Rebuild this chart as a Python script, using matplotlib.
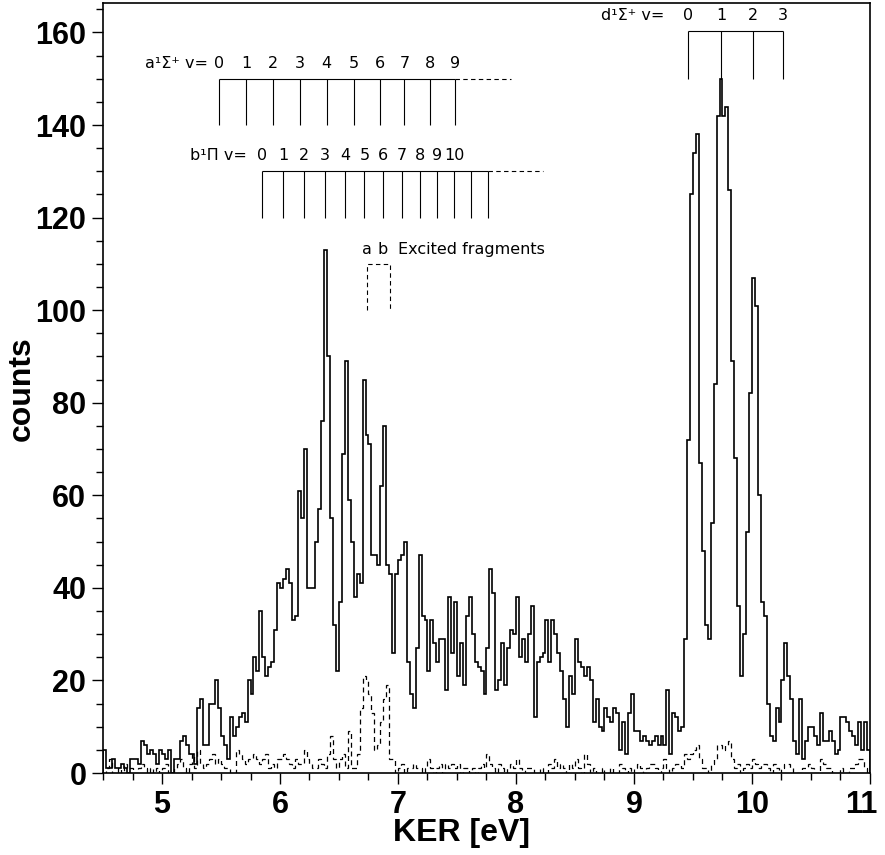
import numpy as np
import matplotlib
matplotlib.use("Agg")
import matplotlib.pyplot as plt
import matplotlib.transforms as mtransforms

# KER histogram, 0.025 eV bins from 4.5 to 11 eV
ker_lo, ker_hi, bin_w = 4.5, 11.0, 0.025

total_counts = [
    5, 1, 1, 3, 1, 1, 2, 1, 0, 3,
    3, 3, 2, 7, 6, 4, 5, 4, 2, 5,
    4, 3, 5, 0, 3, 3, 7, 8, 6, 4,
    4, 2, 14, 16, 6, 6, 15, 15, 20, 14,
    8, 6, 3, 12, 8, 10, 12, 13, 11, 20,
    17, 25, 22, 35, 25, 21, 23, 24, 31, 41,
    40, 42, 44, 41, 33, 34, 61, 55, 70, 40,
    40, 40, 50, 57, 76, 113, 90, 55, 32, 22,
    37, 69, 89, 59, 50, 38, 43, 41, 85, 73,
    71, 47, 47, 45, 62, 75, 45, 43, 26, 43,
    46, 47, 50, 24, 17, 14, 27, 47, 34, 33,
    22, 33, 28, 24, 29, 29, 18, 38, 26, 37,
    21, 28, 19, 34, 38, 30, 24, 23, 22, 17,
    27, 44, 39, 18, 20, 28, 19, 27, 31, 30,
    38, 25, 29, 24, 30, 36, 12, 24, 25, 26,
    33, 24, 33, 30, 26, 22, 16, 10, 21, 17,
    29, 24, 23, 21, 23, 20, 11, 16, 10, 9,
    14, 12, 11, 14, 13, 5, 11, 4, 13, 17,
    9, 9, 7, 8, 7, 6, 7, 8, 6, 8,
    6, 18, 4, 13, 12, 9, 10, 29, 72, 125,
    134, 138, 67, 48, 32, 29, 54, 84, 142, 150,
    142, 144, 126, 89, 68, 36, 21, 30, 52, 82,
    107, 101, 60, 37, 34, 15, 8, 7, 14, 11,
    20, 28, 21, 16, 7, 4, 16, 3, 7, 10,
    10, 8, 6, 13, 7, 7, 9, 7, 4, 5,
    12, 12, 11, 9, 8, 6, 11, 5, 11, 5,
]

excited_counts = [
    0, 1, 3, 0, 0, 1, 0, 2, 0, 1,
    0, 0, 1, 2, 1, 0, 1, 0, 1, 0,
    1, 2, 0, 0, 1, 2, 3, 1, 0, 2,
    4, 1, 5, 2, 1, 2, 3, 4, 2, 3,
    2, 1, 1, 0, 0, 5, 4, 3, 2, 3,
    3, 4, 3, 2, 3, 4, 1, 2, 1, 3,
    3, 4, 3, 2, 1, 3, 2, 2, 5, 3,
    2, 1, 1, 3, 2, 1, 4, 8, 3, 1,
    3, 4, 1, 9, 1, 1, 4, 14, 21, 20,
    17, 13, 5, 6, 11, 16, 19, 3, 3, 0,
    1, 2, 0, 1, 1, 2, 1, 1, 0, 1,
    3, 1, 0, 1, 2, 0, 2, 1, 2, 1,
    2, 0, 1, 1, 0, 1, 0, 1, 2, 1,
    4, 2, 1, 0, 2, 1, 0, 1, 2, 1,
    3, 1, 0, 1, 1, 1, 0, 0, 1, 0,
    0, 2, 1, 3, 1, 2, 1, 0, 2, 1,
    3, 1, 0, 4, 2, 0, 1, 0, 0, 1,
    0, 0, 1, 0, 0, 2, 1, 0, 1, 0,
    1, 2, 1, 0, 1, 2, 2, 1, 0, 1,
    3, 1, 0, 1, 2, 2, 1, 4, 3, 4,
    5, 6, 3, 1, 1, 0, 2, 3, 6, 6,
    5, 6, 7, 3, 1, 2, 0, 1, 2, 1,
    3, 2, 1, 2, 2, 1, 0, 2, 1, 0,
    1, 2, 2, 1, 0, 0, 0, 1, 1, 2,
    1, 0, 0, 3, 2, 1, 1, 0, 0, 0,
    1, 0, 0, 1, 1, 2, 3, 3, 1, 0,
]

# vibrational level combs (eV)
a_levels = [5.48, 5.715, 5.94, 6.17, 6.395, 6.625, 6.845, 7.055, 7.27, 7.485]
a_labels = ["0", "1", "2", "3", "4", "5", "6", "7", "8", "9"]
b_levels = [5.85, 6.025, 6.2, 6.38, 6.55, 6.715, 6.87, 7.03, 7.19, 7.33,
            7.475, 7.62, 7.76]
b_labels = ["0", "1", "2", "3", "4", "5", "6", "7", "8", "9", "10"]
d_levels = [9.46, 9.74, 10.005, 10.26]
d_labels = ["0", "1", "2", "3"]
excited_marks = [6.74, 6.93]

edges = np.arange(ker_lo, ker_hi + bin_w / 2, bin_w)

fig = plt.figure(figsize=(8.85, 8.55), dpi=100)
ax = fig.add_axes([0.1164, 0.0959, 0.8666, 0.9002])

ax.stairs(total_counts, edges, color="black", lw=1.2)
ax.stairs(excited_counts, edges, color="black", lw=0.9, linestyle=(0, (4, 3)))

ax.set_xlim(ker_lo, ker_hi)
ax.set_ylim(0, 166.3)

ann_font = dict(family="DejaVu Sans", fontsize=11.5, color="black")


def comb(levels, labels, y_top, y_bot, dash_end, name, name_end):
    ax.vlines(levels, y_bot, y_top, color="black", lw=0.8)
    ax.hlines(y_top, levels[0], levels[-1], color="black", lw=0.8)
    if dash_end is not None:
        ax.plot([levels[-1], dash_end], [y_top, y_top], color="black", lw=0.8,
                linestyle=(0, (4, 3)))
    for lv, lab in zip(levels, labels):
        ax.text(lv, y_top + 1.7, lab, ha="center", va="bottom", **ann_font)
    ax.text(name_end, y_top + 1.7, name, ha="right", va="bottom", **ann_font)


comb(a_levels, a_labels, 150, 140, 7.96, "a\u00b9\u03a3\u207a v=", 5.39)
comb(b_levels, b_labels, 130, 120, 8.23, "b\u00b9\u03a0 v=", 5.72)
comb(d_levels, d_labels, 160.3, 150, None, "d\u00b9\u03a3\u207a v=", 9.26)

# excited fragments marker
ax.plot([excited_marks[0], excited_marks[0], excited_marks[1], excited_marks[1]],
        [100, 110, 110, 100], color="black", lw=0.8, linestyle=(0, (4, 3)))
ax.text(excited_marks[0], 111.5, "a", ha="center", va="bottom", **ann_font)
ax.text(excited_marks[1] - 0.06, 111.5, "b", ha="center", va="bottom", **ann_font)
ax.text(7.0, 111.5, "Excited fragments", ha="left", va="bottom", **ann_font)

tick_fp = matplotlib.font_manager.FontProperties(family="Liberation Sans",
                                                 weight="bold", size=22)
ax.set_xticks([5, 6, 7, 8, 9, 10, 11])
ax.set_xticks(np.arange(4.5, 11.01, 0.25), minor=True)
ax.set_yticks(np.arange(0, 161, 20))
ax.set_yticks(np.arange(0, 166, 5), minor=True)
ax.tick_params(which="major", direction="out", length=8, width=1.0, pad=4)
ax.tick_params(which="minor", direction="out", length=5, width=1.0)
for lab in ax.get_xticklabels() + ax.get_yticklabels():
    lab.set_fontproperties(tick_fp)
# keep the last x label inside the canvas
last = ax.get_xticklabels()[-1]
last.set_transform(last.get_transform() +
                   mtransforms.ScaledTranslation(-6 / 72, 0, fig.dpi_scale_trans))

ax.set_xlabel("KER [eV]", family="Liberation Sans", weight="bold", size=23)
ax.xaxis.set_label_coords(0.467, -0.058)
ax.set_ylabel("counts", family="Liberation Sans", weight="bold", size=23)
ax.yaxis.set_label_coords(-0.087, 0.5)

for sp in ax.spines.values():
    sp.set_linewidth(1.2)

fig.savefig("out.png", dpi=100)
